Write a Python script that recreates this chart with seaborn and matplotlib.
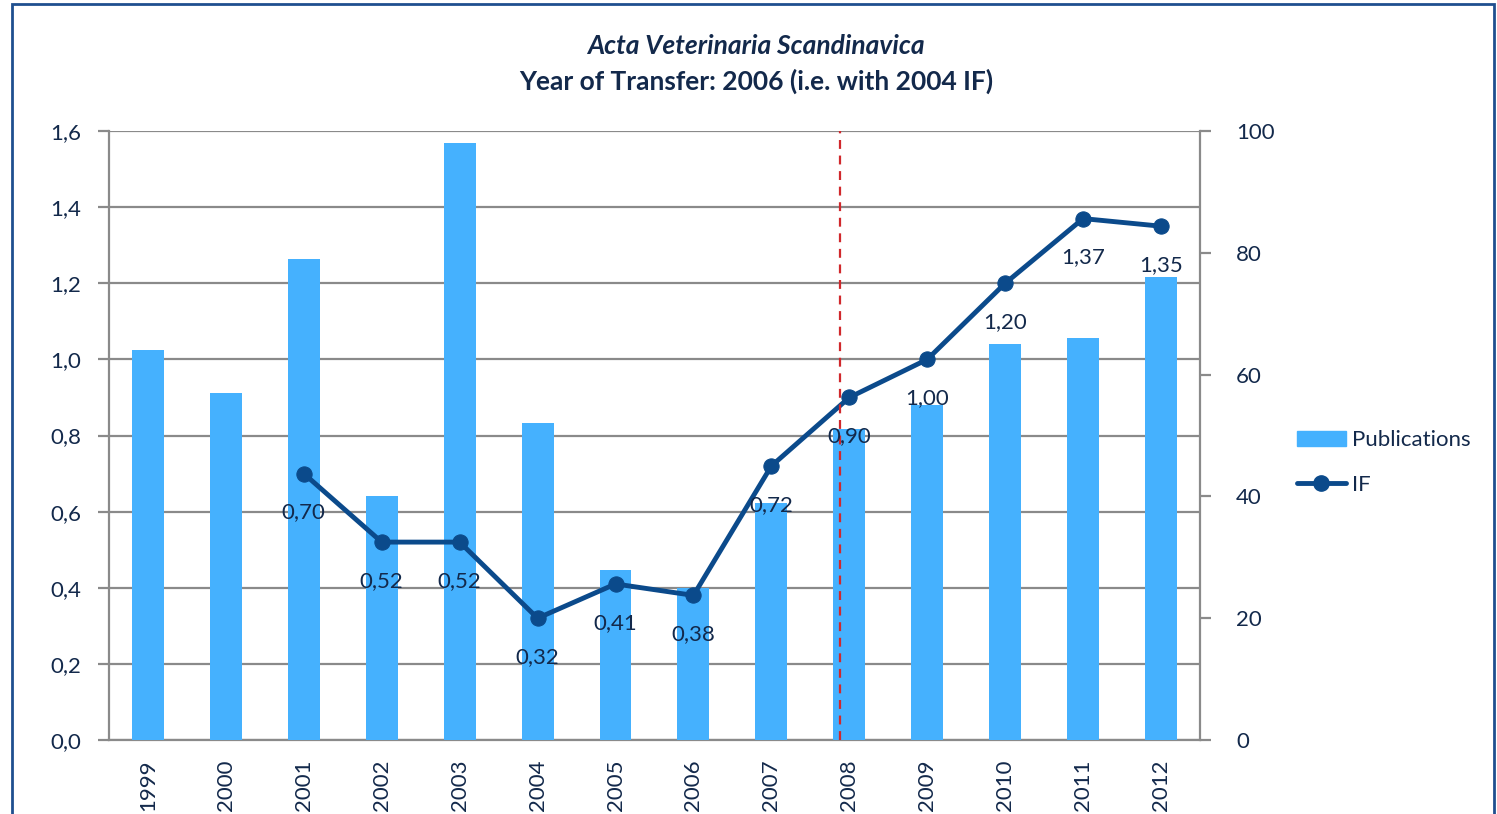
import numpy as np
import pandas as pd
import seaborn as sns
import matplotlib.pyplot as plt
from matplotlib.patches import Patch, Rectangle
from matplotlib.lines import Line2D

# data
years = ["1999", "2000", "2001", "2002", "2003", "2004", "2005",
         "2006", "2007", "2008", "2009", "2010", "2011", "2012"]
publications = [64, 57, 79, 40, 98, 52, 28, 25, 39, 51, 55, 65, 66, 76]
if_years = ["2001", "2002", "2003", "2004", "2005", "2006",
            "2007", "2008", "2009", "2010", "2011", "2012"]
if_values = [0.70, 0.52, 0.52, 0.32, 0.41, 0.38, 0.72, 0.90, 1.00, 1.20, 1.37, 1.35]
transfer_pos = 8.88  # dashed marker, just left of 2008

sns.set_style("white")
plt.rcParams["font.family"] = ["Lato", "DejaVu Sans"]

TXT = "#13294b"
GRID = "#8a8a8a"
BAR = "#45b1fe"
LINE = "#0b4a8b"

pub_df = pd.DataFrame({"year": years, "pubs": publications})
if_df = pd.DataFrame({"pos": [years.index(y) for y in if_years], "IF": if_values})

fig = plt.figure(figsize=(14.97, 8.14), dpi=100)
ax = fig.add_axes([0.0728, 0.0909, 0.7288, 0.7481])
ax2 = ax.twinx()
ax3 = ax.twinx()

# left axis: IF scale + grid
ax.set_ylim(0, 1.6)
ax.set_yticks(np.arange(0, 1.61, 0.2))
ax.set_yticklabels([f"{t:.1f}".replace(".", ",") for t in np.arange(0, 1.61, 0.2)])
ax.grid(axis="y", color=GRID, lw=1.6)
ax.set_axisbelow(True)

# bars on the right axis
sns.barplot(data=pub_df, x="year", y="pubs", ax=ax2, color=BAR, width=0.41,
            saturation=1, order=years, linewidth=0)
ax2.set_ylim(0, 100)
ax2.set_yticks(range(0, 101, 20))
ax2.set_ylabel("")
ax2.set_xlabel("")

# IF line on its own layer so it sits above the bars
sns.lineplot(data=if_df, x="pos", y="IF", ax=ax3, color=LINE, lw=3.5,
             marker="o", markersize=11, markeredgecolor=LINE)
ax3.set_ylim(0, 1.6)
ax3.set_yticks([])
ax3.set_ylabel("")
ax3.set_xlabel("")
ax3.axvline(transfer_pos, color="#d0282c", ls=(0, (4, 3)), lw=1.6)
for p, v in zip(if_df["pos"], if_df["IF"]):
    ax3.annotate(f"{v:.2f}".replace(".", ","), (p, v), xytext=(0, -28),
                 textcoords="offset points", ha="center", va="center",
                 fontsize=16, color=TXT)

# x axis: labels at centres, tick marks between categories
for a in (ax, ax2, ax3):
    a.set_xlim(-0.5, len(years) - 0.5)
ax.set_xticks(range(len(years)))
ax.set_xticklabels(years, rotation=90)
ax.set_xticks(np.arange(-0.5, len(years), 1), minor=True)
ax.tick_params(axis="x", which="major", length=0, pad=14, labelsize=16, labelcolor=TXT)
ax.tick_params(axis="x", which="minor", length=8, width=1.6, color=GRID)
ax.tick_params(axis="y", length=8, width=1.6, color=GRID, labelsize=16,
               labelcolor=TXT, pad=12)
ax2.tick_params(axis="y", length=8, width=1.6, color=GRID, labelsize=16,
                labelcolor=TXT, pad=18)
ax2.tick_params(axis="x", length=0, labelbottom=False)
ax3.tick_params(axis="x", length=0, labelbottom=False)

for a in (ax, ax2, ax3):
    for s in a.spines.values():
        s.set_visible(False)
ax.spines["left"].set_visible(True)
ax.spines["bottom"].set_visible(True)
ax2.spines["right"].set_visible(True)
for s in (ax.spines["left"], ax.spines["bottom"], ax2.spines["right"]):
    s.set_color(GRID)
    s.set_linewidth(1.6)

# titles
fig.text(0.505, 0.943, "Acta Veterinaria Scandinavica", ha="center", va="center",
         fontsize=19, fontweight="bold", fontstyle="italic", color=TXT)
fig.text(0.505, 0.900, "Year of Transfer: 2006 (i.e. with 2004 IF)", ha="center",
         va="center", fontsize=19, fontweight="bold", color=TXT)

# legend
handles = [Patch(facecolor=BAR, edgecolor=BAR, label="Publications"),
           Line2D([0], [0], color=LINE, lw=3.5, marker="o", markersize=11, label="IF")]
fig.legend(handles=handles, loc="center left", bbox_to_anchor=(0.853, 0.432),
           frameon=False, fontsize=16, labelcolor=TXT, handlelength=2.2,
           labelspacing=1.1, handletextpad=0.3)

# outer frame
fig.patches.append(Rectangle((0.008, -0.02), 0.99, 1.015, transform=fig.transFigure,
                             fill=False, edgecolor="#1f4f8f", lw=2))

fig.savefig("out.png", dpi=100)
